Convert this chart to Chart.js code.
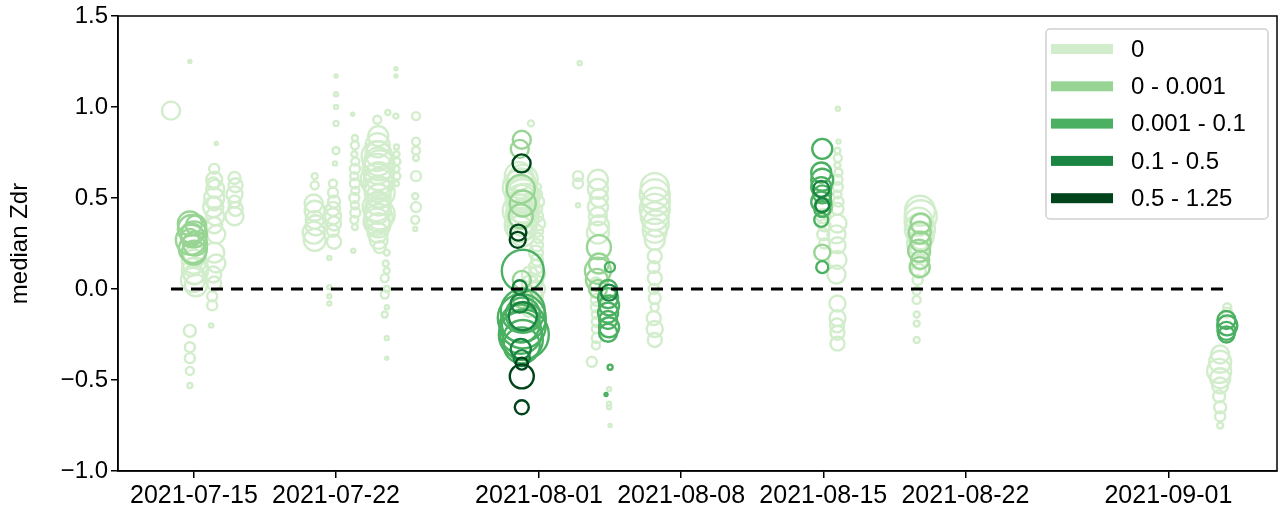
<!DOCTYPE html>
<html>
<head>
  <title>median Zdr</title>
  <style>
    body { margin: 0; background: #fff; }
    #wrap { width: 1284px; height: 516px; }
  </style>
</head>
<body>
  <div id="wrap"><canvas id="zdr" width="1284" height="516"></canvas></div>
  <script src="https://cdn.jsdelivr.net/npm/chart.js"></script>
  <script>
    // x = days after 2021-07-01, y = median Zdr, w = marker weight
    const classLabels = ['0', '0 - 0.001', '0.001 - 0.1', '0.1 - 0.5', '0.5 - 1.25'];
    const classColors = ['#d2edcb', '#98d594', '#4bb062', '#1a8441', '#00441b'];
    const tickDays = [14, 21, 31, 38, 45, 52, 62];

    const pts0 = [
      [12.87,0.98,9],[13.8,1.25,1.5],[15.1,0.80,1.5],
      [14.0,0.15,12],[14.05,0.10,13],[13.95,0.05,12],[14.1,0.02,11],[14.0,0.08,10],[13.9,0.12,9],[14.05,0.18,11],
      [15.0,0.66,5],[15.0,0.60,8],[15.05,0.55,9],[15.0,0.50,10],[14.95,0.45,10],[15.05,0.40,9],[15.0,0.35,8],[15.1,0.30,9],[15.0,0.47,7],[14.95,0.58,6],
      [16.0,0.61,6],[16.05,0.57,7],[16.0,0.52,8],[16.0,0.48,6],[16.05,0.44,7],[16.0,0.40,9],
      [15.0,0.20,10],[15.1,0.14,9],[14.95,0.08,8],[15.0,0.03,7],
      [14.9,-0.04,5],[14.9,-0.09,5],[14.85,-0.20,2],
      [13.8,-0.23,6],[13.8,-0.32,5],[13.8,-0.38,5],[13.8,-0.45,4],[13.8,-0.53,2.5],
      [19.95,0.62,3],[19.95,0.57,4],[19.9,0.47,9],[19.95,0.43,10],[19.95,0.38,9],[20.0,0.35,10],[19.9,0.31,11],[19.95,0.27,11],
      [20.85,0.58,4],[20.85,0.53,5],[20.9,0.48,6],[20.85,0.44,7],[20.85,0.40,8],[20.9,0.36,7],[20.85,0.32,6],[20.9,0.26,7],
      [20.67,0.17,2],[20.67,0.01,2],[20.67,-0.04,2],[20.67,-0.08,2],
      [21.0,1.17,1.5],[21.0,1.07,2],[21.0,1.0,2],[21.0,0.91,2.5],[21.0,0.76,3.5],[20.95,0.69,2],
      [21.93,0.83,3],[21.93,0.79,4],[21.9,0.74,3],[21.95,0.70,4],[21.93,0.66,5],[21.9,0.62,4],[21.93,0.58,5],[21.95,0.54,4],
      [21.9,0.50,5],[21.93,0.46,4],[21.95,0.42,5],[21.9,0.38,4],[21.93,0.34,3],[21.82,0.96,1.5],[21.85,0.21,2],
      [23.08,0.84,10],[23.05,0.79,12],[23.1,0.74,13],[23.08,0.70,14],[23.05,0.66,15],[23.1,0.62,14],[23.08,0.58,15],[23.05,0.55,13],
      [23.1,0.51,12],[23.08,0.47,12],[23.05,0.43,13],[23.1,0.39,14],[23.08,0.35,12],[23.05,0.31,10],[23.1,0.27,9],[23.15,0.23,6],
      [23.0,0.73,15],[23.15,0.68,15],[23.0,0.60,16],[23.15,0.53,15],[23.0,0.45,14],[23.15,0.41,15],[23.0,0.37,13],
      [23.5,0.20,3],[23.45,0.14,3],[23.5,0.10,3],[23.4,0.06,4],[23.5,0.0,3],[23.4,-0.03,4],[23.5,-0.10,2],[23.4,-0.14,3],[23.5,-0.27,2],[23.5,-0.38,1.5],
      [23.03,0.93,4],[23.55,0.97,2.5],[23.95,0.95,2.5],[23.95,1.21,1.5],[23.95,1.17,1.5],
      [23.98,0.78,2.5],[23.98,0.74,3],[24.0,0.70,3.5],[23.98,0.66,3],[24.0,0.62,3.5],[23.98,0.58,2.5],
      [24.94,0.95,4],[24.94,0.81,4],[24.94,0.76,4],[24.94,0.72,3],[24.94,0.62,5],[24.9,0.51,3],[24.94,0.45,5],[24.9,0.38,4],[24.9,0.33,2],
      [30.6,0.91,3],
      [30.0,0.62,14],[30.1,0.58,15],[30.15,0.53,16],[30.1,0.49,15],[30.2,0.45,16],[30.1,0.41,15],[30.15,0.37,14],[30.05,0.33,13],[30.2,0.30,12],
      [30.05,0.56,17],[30.2,0.51,17],[30.0,0.43,16],[30.25,0.39,15],[30.1,0.35,16],[30.2,0.60,15],[30.3,0.42,13],[30.3,0.50,14],
      [30.9,0.56,4],[30.9,0.52,5],[30.95,0.48,6],[30.9,0.44,5],[30.9,0.40,6],[30.95,0.36,7],[30.9,0.32,6],[30.95,0.28,5],[30.9,0.24,6],
      [30.85,0.20,7],[30.9,0.16,6],[30.85,0.12,7],[30.9,0.08,8],[30.85,0.04,7],[30.9,0.0,8],[30.85,-0.04,7],[30.9,-0.08,6],
      [30.55,0.08,8],[30.55,0.03,8],[30.5,-0.02,7],[30.55,-0.07,7],[30.5,-0.12,6],
      [32.92,0.62,5],[32.92,0.58,5],[32.92,0.46,2],[33.0,1.24,2],
      [33.9,0.60,10],[33.9,0.55,10],[33.95,0.50,9],[33.9,0.45,10],[33.9,0.40,9],[33.95,0.35,10],[33.9,0.31,11],
      [33.8,0.03,6],[33.8,-0.02,5],[33.85,-0.06,6],[33.8,-0.10,5],[33.8,-0.14,4],[33.85,-0.18,5],[33.8,-0.22,4],[33.85,-0.27,5],[33.8,-0.31,4],[33.6,-0.40,5],
      [34.45,-0.55,2],[34.45,-0.63,2],[34.45,-0.65,2],[34.5,-0.75,1.5],
      [36.7,0.56,14],[36.7,0.52,15],[36.75,0.48,14],[36.7,0.44,15],[36.7,0.40,14],[36.75,0.36,13],[36.7,0.32,12],[36.7,0.27,10],
      [36.7,0.18,7],[36.65,0.12,6],[36.7,0.06,7],[36.65,0.0,5],[36.7,-0.05,6],[36.7,-0.10,4],[36.65,-0.16,7],[36.7,-0.22,8],[36.7,-0.28,7],
      [45.72,0.99,2],
      [45.75,0.81,2],[45.7,0.76,3],[45.72,0.72,4],[45.7,0.68,3],[45.75,0.64,4],[45.7,0.60,5],[45.72,0.56,5],[45.7,0.52,4],[45.75,0.48,5],[45.7,0.44,6],
      [45.7,0.36,9],[45.65,0.30,9],[45.7,0.24,8],[45.7,0.16,9],[45.65,0.08,9],
      [45.7,-0.08,8],[45.7,-0.16,8],[45.68,-0.20,7],[45.7,-0.24,7],[45.7,-0.30,7],
      [45.0,0.40,7],[45.05,0.35,6],[45.0,0.30,6],[45.05,0.25,5],
      [49.76,0.43,15],[49.8,0.40,16],[49.7,0.37,14],[49.76,0.33,15],[49.8,0.29,13],[49.72,0.25,12],[49.76,0.20,10],[49.72,0.15,8],
      [49.7,0.10,7],[49.65,0.05,5],[49.6,-0.01,4],[49.6,-0.06,4],[49.6,-0.14,3],[49.6,-0.19,3],[49.6,-0.28,3],
      [64.9,-0.10,4],[64.9,-0.13,5],
      [64.55,-0.36,9],[64.55,-0.40,11],[64.5,-0.45,12],[64.55,-0.49,10],[64.55,-0.53,8],[64.5,-0.59,6],[64.55,-0.65,6],[64.55,-0.70,5],[64.55,-0.75,3]
    ];
    const pts1 = [
      [13.8,0.36,12],[13.9,0.33,14],[14.0,0.30,13],[13.85,0.27,15],[14.05,0.25,12],[13.95,0.22,14],[14.1,0.35,10],[13.9,0.30,11],[14.0,0.20,12],[13.8,0.28,9],
      [30.15,0.82,9],[30.05,0.77,9],[30.1,0.55,14],[30.2,0.47,13],[30.1,0.40,12],[30.15,0.05,9],[30.2,-0.05,10],
      [33.95,0.23,12],[33.9,0.10,13],[33.85,0.05,11],[33.95,0.14,10],[33.9,0.0,9],
      [45.0,0.45,9],[44.95,0.20,8],
      [49.8,0.36,10],[49.75,0.31,11],[49.8,0.26,10],[49.72,0.21,11],[49.78,0.16,9],[49.75,0.12,10]
    ];
    const pts2 = [
      [30.2,0.10,21],[30.2,-0.12,22],[30.15,-0.16,24],[30.2,-0.20,23],[30.1,-0.24,21],[30.2,-0.28,20],[30.15,-0.31,18],[30.1,-0.19,19],[30.25,-0.25,25],[30.2,-0.14,17],
      [34.49,0.12,5],[34.4,0.0,9],[34.4,-0.05,10],[34.45,-0.09,10],[34.4,-0.13,10],[34.4,-0.17,9],[34.45,-0.21,10],[34.4,-0.24,9],[34.5,-0.43,2.5],[34.3,-0.58,1.5],
      [44.95,0.77,10],[44.9,0.64,10],[44.95,0.60,11],[44.9,0.56,10],[44.95,0.52,9],[44.9,0.48,10],[44.95,0.44,8],[44.9,0.38,7],[44.95,0.12,6],
      [64.86,-0.17,9],[64.9,-0.20,10],[64.86,-0.23,9],[64.86,-0.25,8]
    ];
    const pts3 = [
      [30.05,0.01,7],[30.2,-0.15,14],[30.1,-0.33,10],[30.15,-0.38,8],[30.05,-0.08,9],
      [44.9,0.55,8],[44.95,0.46,7],
      [34.45,-0.02,8]
    ];
    const pts4 = [
      [30.14,0.69,9],[29.98,0.31,8],[29.95,0.27,8],[30.15,-0.41,6],[30.15,-0.48,12],[30.15,-0.65,7]
    ];

    const classes = [pts0, pts1, pts2, pts3, pts4];
    const allDays = classes.flat().map(p => p[0]);
    const dayMin = Math.min(...allDays);
    const dayMax = Math.max(...allDays);

    const FONT = "'Liberation Sans', Arial, Helvetica, sans-serif";

    function dayLabel(d) {
      const t = new Date(Date.UTC(2021, 6, 1) + d * 86400000);
      return t.toISOString().slice(0, 10);
    }

    const datasets = classes.map((pts, i) => ({
      label: classLabels[i],
      data: pts.map(p => ({ x: p[0], y: p[1], w: p[2] })),
      borderColor: classColors[i],
      backgroundColor: 'rgba(0,0,0,0)',
      pointBorderWidth: 2.4,
      pointRadius: ctx => ctx.raw ? ctx.raw.w : 3,
      order: 5 - i
    }));
    datasets.push({
      type: 'line',
      label: 'zero',
      data: [{ x: dayMin, y: 0 }, { x: dayMax, y: 0 }],
      borderColor: '#000',
      borderWidth: 3,
      borderDash: [12, 8],
      pointRadius: 0,
      showLine: true,
      order: 0
    });

    const frame = {
      id: 'frame',
      afterDraw(chart) {
        const a = chart.chartArea, ctx = chart.ctx;
        ctx.save();
        ctx.strokeStyle = '#000';
        ctx.lineWidth = 1.5;
        ctx.strokeRect(a.left, a.top, a.right - a.left, a.bottom - a.top);
        ctx.restore();
      }
    };

    const boxLegend = {
      id: 'boxLegend',
      afterDraw(chart) {
        const a = chart.chartArea, ctx = chart.ctx;
        const x0 = a.right - 231, y0 = a.top + 13, w = 222, h = 190;
        ctx.save();
        ctx.fillStyle = 'rgba(255,255,255,0.85)';
        ctx.strokeStyle = '#d0d0d0';
        ctx.lineWidth = 1.5;
        ctx.beginPath();
        if (ctx.roundRect) ctx.roundRect(x0, y0, w, h, 4); else ctx.rect(x0, y0, w, h);
        ctx.fill();
        ctx.stroke();
        ctx.font = '24px ' + FONT;
        ctx.textBaseline = 'middle';
        classLabels.forEach((lab, i) => {
          const yy = y0 + 20 + i * 37.3;
          ctx.fillStyle = classColors[i];
          ctx.fillRect(x0 + 5, yy - 5, 62, 10);
          ctx.fillStyle = '#000';
          ctx.fillText(lab, x0 + 85, yy + 1);
        });
        ctx.restore();
      }
    };

    new Chart(document.getElementById('zdr'), {
      type: 'scatter',
      data: { datasets },
      plugins: [frame, boxLegend],
      options: {
        responsive: false,
        animation: false,
        events: [],
        layout: { autoPadding: false, padding: { top: 16, right: 7, bottom: 0, left: 0 } },
        plugins: { legend: { display: false }, tooltip: { enabled: false } },
        scales: {
          x: {
            type: 'linear',
            min: 10.26,
            max: 67.35,
            afterBuildTicks: s => { s.ticks = tickDays.map(v => ({ value: v })); },
            afterFit: s => { s.height = 45; s.paddingLeft = 0; s.paddingRight = 0; },
            grid: { drawOnChartArea: false, drawTicks: true, tickLength: 7, color: '#000', lineWidth: 1.5 },
            border: { display: true, color: '#000', width: 1.5 },
            ticks: {
              autoSkip: false,
              maxRotation: 0,
              padding: 3,
              color: '#000',
              font: { family: FONT, size: 25 },
              callback: v => dayLabel(v)
            }
          },
          y: {
            min: -1,
            max: 1.5,
            afterBuildTicks: s => { s.ticks = [-1, -0.5, 0, 0.5, 1, 1.5].map(v => ({ value: v })); },
            afterFit: s => { s.width = 118; s.paddingTop = 0; s.paddingBottom = 0; },
            grid: { drawOnChartArea: false, drawTicks: true, tickLength: 7, color: '#000', lineWidth: 1.5 },
            border: { display: true, color: '#000', width: 1.5 },
            title: { display: true, text: 'median Zdr', color: '#000', font: { family: FONT, size: 24 }, padding: { top: 6, bottom: 0 } },
            ticks: {
              padding: 3,
              color: '#000',
              font: { family: FONT, size: 24 },
              callback: v => v.toFixed(1).replace('-', '\u2212')
            }
          }
        }
      }
    });
  </script>
</body>
</html>
